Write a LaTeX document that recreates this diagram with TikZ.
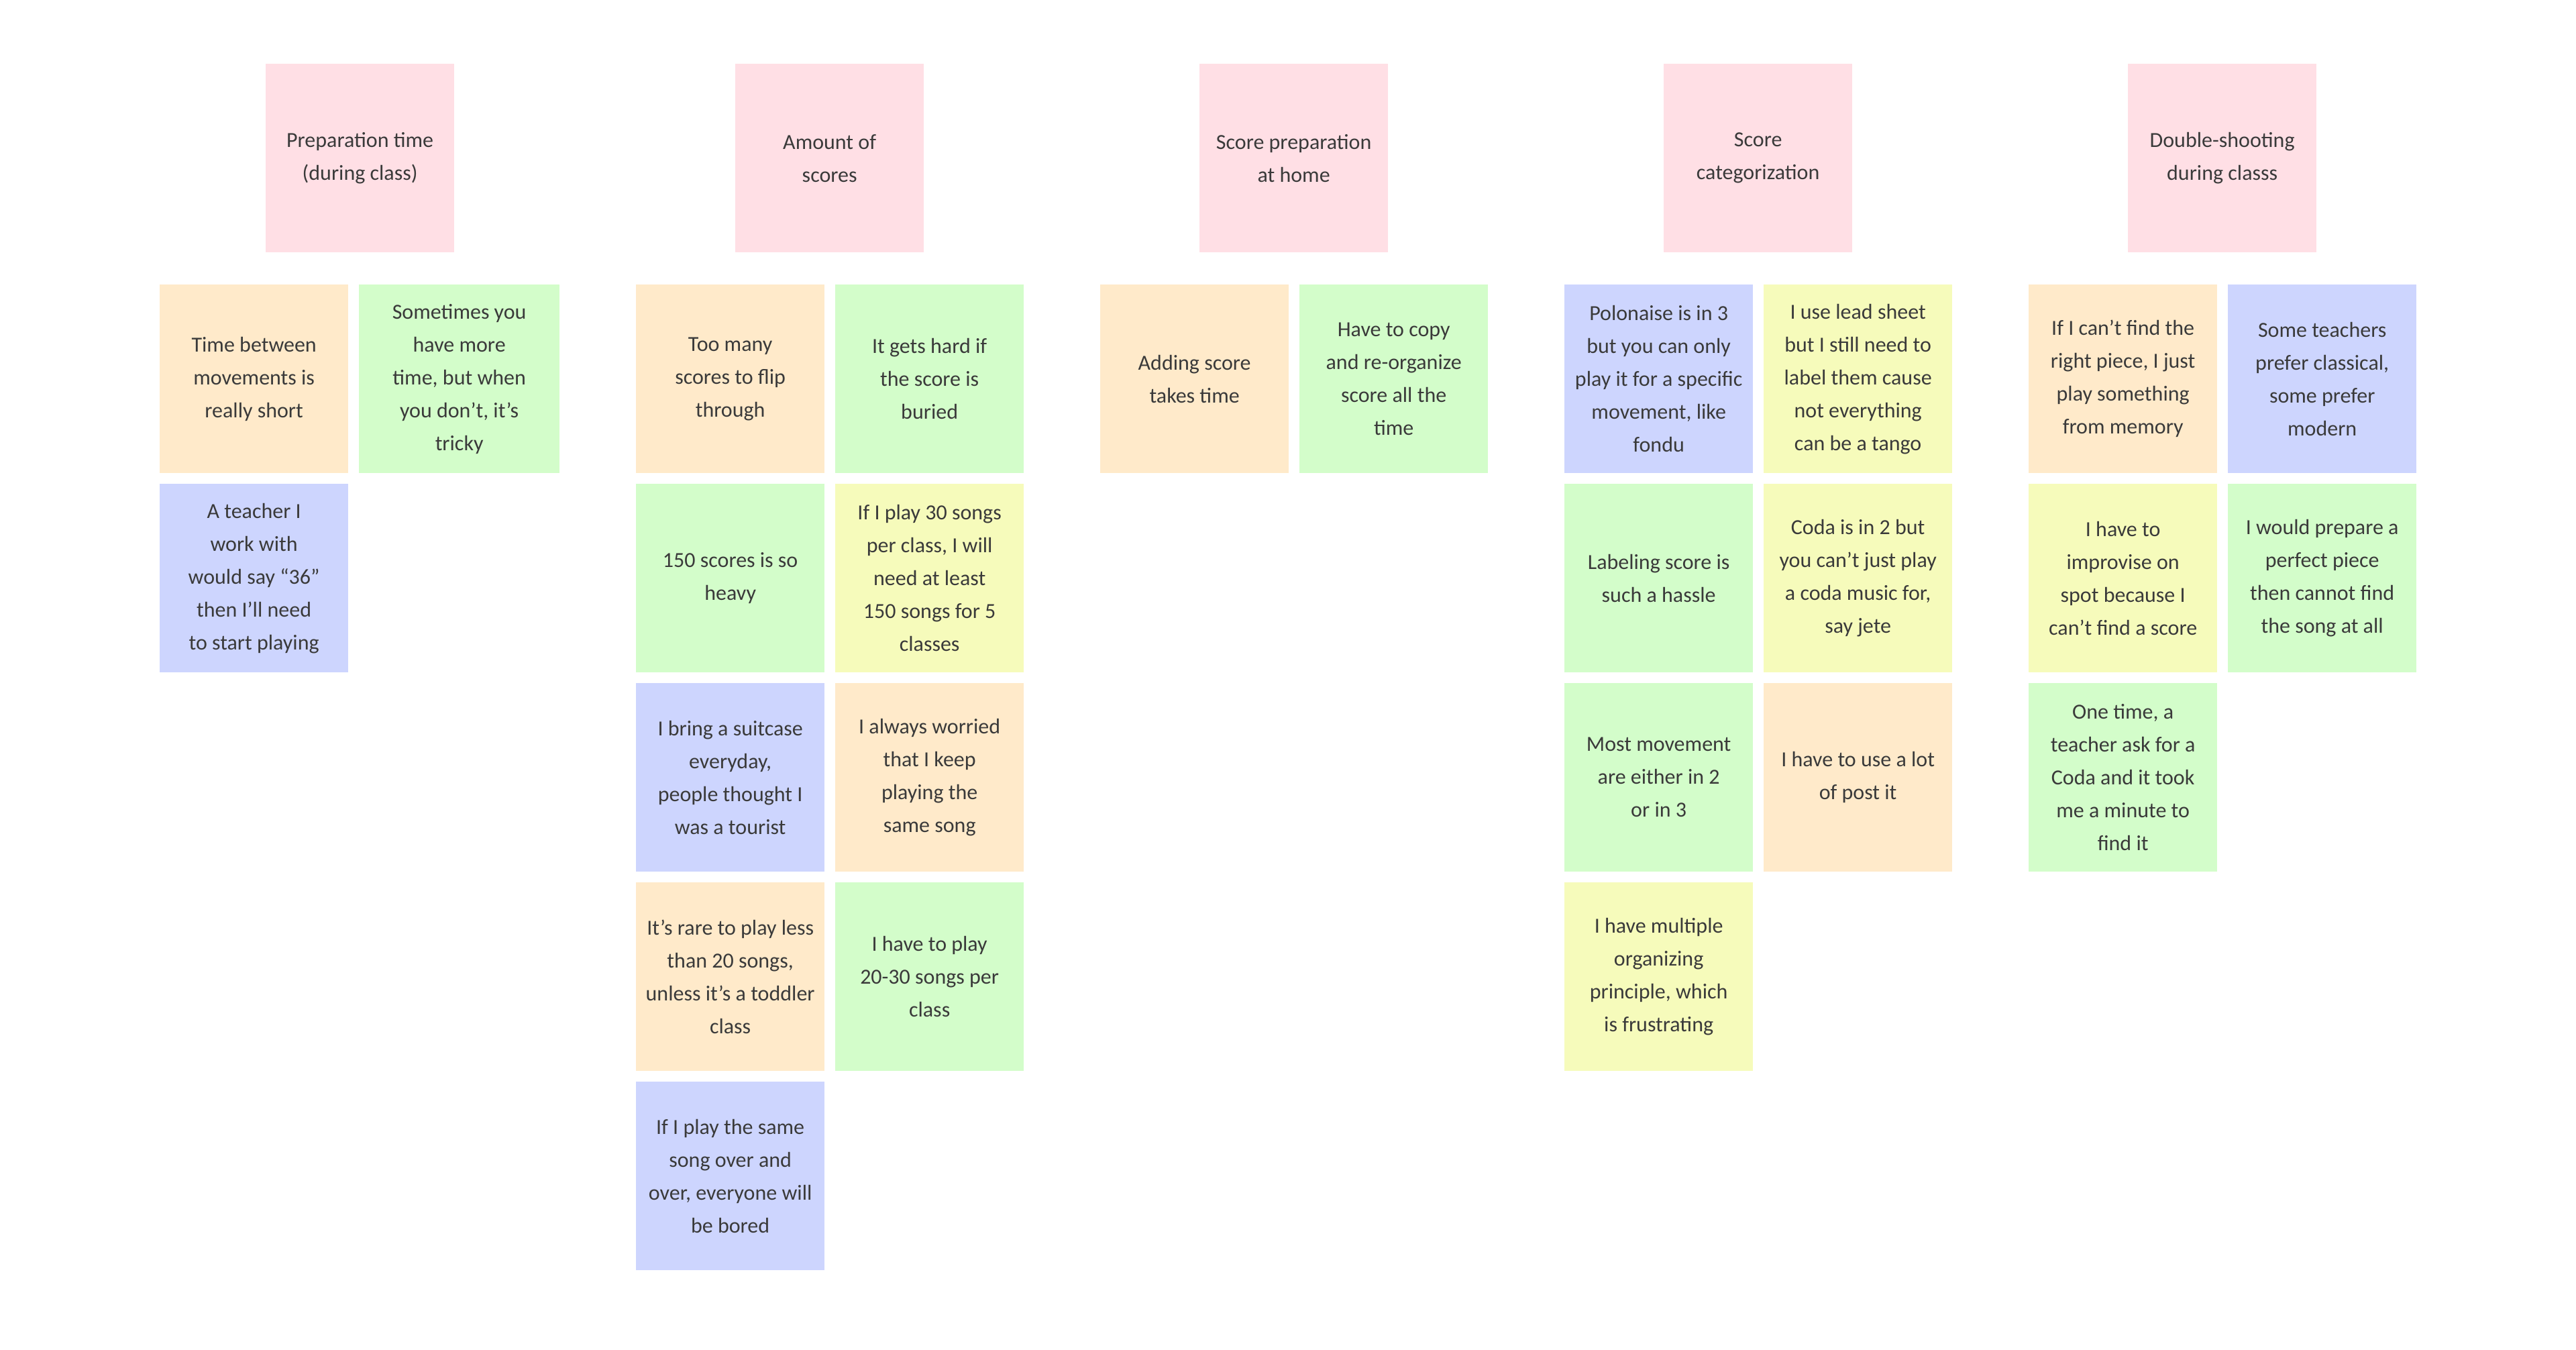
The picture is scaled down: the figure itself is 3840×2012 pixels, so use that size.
\documentclass[tikz,border=0pt]{standalone}
\usepackage{fontspec}
\setmainfont{Carlito}
\definecolor{pk}{HTML}{FFDFE5}
\definecolor{pe}{HTML}{FFEACA}
\definecolor{gr}{HTML}{D3FDCA}
\definecolor{bl}{HTML}{CDD5FE}
\definecolor{ye}{HTML}{F6FBBB}
\definecolor{txt}{HTML}{3A3A3A}
\tikzset{
  sticky/.style={rectangle, draw=none, inner sep=0pt, anchor=north west,
    minimum width=140.25pt, minimum height=140.25pt, align=center,
    text=txt, font=\fontsize{16}{24.5}\selectfont},
  wide/.style={minimum width=149.25pt}
}
\begin{document}
\begin{tikzpicture}[x=0.5pt,y=-0.5pt]
\useasboundingbox[fill=white] (0,0) rectangle (3840,2012);
% Column 1
\node[sticky, fill=pk] (h1) at (396,95) {Preparation time\\(during class)};
\node[sticky, fill=pe] (c1a) at (238,424) {Time between\\movements is\\really short};
\node[sticky, wide, fill=gr] (c1b) at (535,424) {Sometimes you\\have more\\time, but when\\you don’t, it’s\\tricky};
\node[sticky, fill=bl] (c1c) at (238,721) {A teacher I\\work with\\would say “36”\\then I’ll need\\to start playing};
% Column 2
\node[sticky, fill=pk] (h2) at (1096,95) {Amount of\\scores};
\node[sticky, fill=pe] (c2a) at (948,424) {Too many\\scores to flip\\through};
\node[sticky, fill=gr] (c2b) at (1245,424) {It gets hard if\\the score is\\buried};
\node[sticky, fill=gr] (c2c) at (948,721) {150 scores is so\\heavy};
\node[sticky, fill=ye] (c2d) at (1245,721) {If I play 30 songs\\per class, I will\\need at least\\150 songs for 5\\classes};
\node[sticky, fill=bl] (c2e) at (948,1018) {I bring a suitcase\\everyday,\\people thought I\\was a tourist};
\node[sticky, fill=pe] (c2f) at (1245,1018) {I always worried\\that I keep\\playing the\\same song};
\node[sticky, fill=pe] (c2g) at (948,1315) {It’s rare to play less\\than 20 songs,\\unless it’s a toddler\\class};
\node[sticky, fill=gr] (c2h) at (1245,1315) {I have to play\\20-30 songs per\\class};
\node[sticky, fill=bl] (c2i) at (948,1612) {If I play the same\\song over and\\over, everyone will\\be bored};
% Column 3
\node[sticky, fill=pk] (h3) at (1788,95) {Score preparation\\at home};
\node[sticky, fill=pe] (c3a) at (1640,424) {Adding score\\takes time};
\node[sticky, fill=gr] (c3b) at (1937,424) {Have to copy\\and re-organize\\score all the\\time};
% Column 4
\node[sticky, fill=pk] (h4) at (2480,95) {Score\\categorization};
\node[sticky, fill=bl] (c4a) at (2332,424) {Polonaise is in 3\\but you can only\\play it for a specific\\movement, like\\fondu};
\node[sticky, fill=ye] (c4b) at (2629,424) {I use lead sheet\\but I still need to\\label them cause\\not everything\\can be a tango};
\node[sticky, fill=gr] (c4c) at (2332,721) {Labeling score is\\such a hassle};
\node[sticky, fill=ye] (c4d) at (2629,721) {Coda is in 2 but\\you can’t just play\\a coda music for,\\say jete};
\node[sticky, fill=gr] (c4e) at (2332,1018) {Most movement\\are either in 2\\or in 3};
\node[sticky, fill=pe] (c4f) at (2629,1018) {I have to use a lot\\of post it};
\node[sticky, fill=ye] (c4g) at (2332,1315) {I have multiple\\organizing\\principle, which\\is frustrating};
% Column 5
\node[sticky, fill=pk] (h5) at (3172,95) {Double-shooting\\during classs};
\node[sticky, fill=pe] (c5a) at (3024,424) {If I can’t find the\\right piece, I just\\play something\\from memory};
\node[sticky, fill=bl] (c5b) at (3321,424) {Some teachers\\prefer classical,\\some prefer\\modern};
\node[sticky, fill=ye] (c5c) at (3024,721) {I have to\\improvise on\\spot because I\\can’t find a score};
\node[sticky, fill=gr] (c5d) at (3321,721) {I would prepare a\\perfect piece\\then cannot find\\the song at all};
\node[sticky, fill=gr] (c5e) at (3024,1018) {One time, a\\teacher ask for a\\Coda and it took\\me a minute to\\find it};
\end{tikzpicture}
\end{document}
